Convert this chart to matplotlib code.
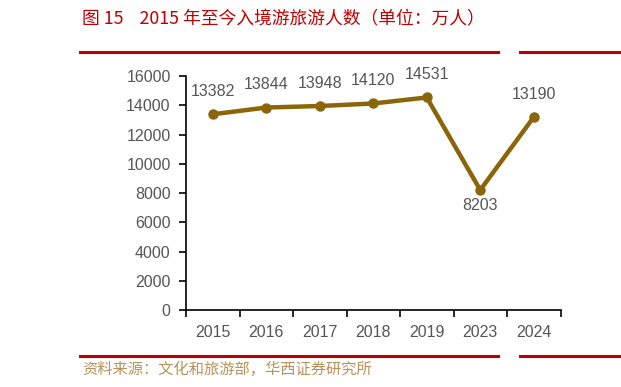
import numpy as np
import matplotlib
matplotlib.use('Agg')
import matplotlib.pyplot as plt
from matplotlib.lines import Line2D

plt.rcParams['font.family'] = ['Noto Sans CJK SC', 'DejaVu Sans']
num_font = ['Liberation Sans', 'DejaVu Sans']

years = ['2015', '2016', '2017', '2018', '2019', '2023', '2024']
visitors = [13382, 13844, 13948, 14120, 14531, 8203, 13190]
yticks = [0, 2000, 4000, 6000, 8000, 10000, 12000, 14000, 16000]

title = '图 15    2015 年至今入境游旅游人数（单位：万人）'
source = '资料来源：文化和旅游部，华西证券研究所'

fig = plt.figure(figsize=(6.21, 3.87), dpi=100)
W, H = 621, 387
# axes box in pixels: left 186, right 560.5, top 76, bottom 310
ax = fig.add_axes([186 / W, 1 - 310 / H, (560.5 - 186) / W, (310 - 76) / H])

x = np.arange(len(years))
line_color = '#8b6508'
ax.plot(x, visitors, color=line_color, lw=3.2, marker='o', ms=6.5, zorder=3,
        clip_on=False)

for i, v in enumerate(visitors):
    if i == 5:
        ax.annotate(str(v), (i, v), xytext=(0, -6), textcoords='offset points',
                    ha='center', va='top', fontsize=11.5, color='#555555',
                    family=num_font)
    else:
        ax.annotate(str(v), (i, v), xytext=(0, 11), textcoords='offset points',
                    ha='center', va='bottom', fontsize=11.5, color='#555555',
                    family=num_font)

ax.set_xlim(-0.5, len(years) - 0.5)
ax.set_ylim(0, 16000)
ax.set_yticks(yticks)
ax.set_yticklabels([str(t) for t in yticks], family=num_font)
ax.set_xticks(x)
ax.set_xticklabels(years, family=num_font)
ax.set_xticks(np.arange(-0.5, len(years)), minor=True)
ax.tick_params(axis='x', which='major', length=0, pad=11, labelsize=11.5, labelcolor='#555555')
ax.tick_params(axis='x', which='minor', length=5, width=1.2, direction='out', color='black')
ax.tick_params(axis='y', length=5, width=1.2, direction='out', labelsize=11.5,
               labelcolor='#555555', pad=6)
for s in ['top', 'right']:
    ax.spines[s].set_visible(False)
ax.spines['left'].set_linewidth(1.2)
ax.spines['bottom'].set_linewidth(1.2)

# title, red rules, source
red = '#c00000'
fig.text(82 / W, 1 - 19 / H, title, color=red, fontsize=12.8, va='center', ha='left')
for yy in [52, 356]:
    fig.add_artist(Line2D([80 / W, 498 / W], [1 - yy / H, 1 - yy / H],
                          color=red, lw=2.2))
    fig.add_artist(Line2D([520 / W, 1.0], [1 - yy / H, 1 - yy / H],
                          color=red, lw=2.2))
fig.text(82 / W, 1 - 369 / H, source, color='#b8915a', fontsize=11, va='center', ha='left')

fig.savefig('out.png', dpi=100)
